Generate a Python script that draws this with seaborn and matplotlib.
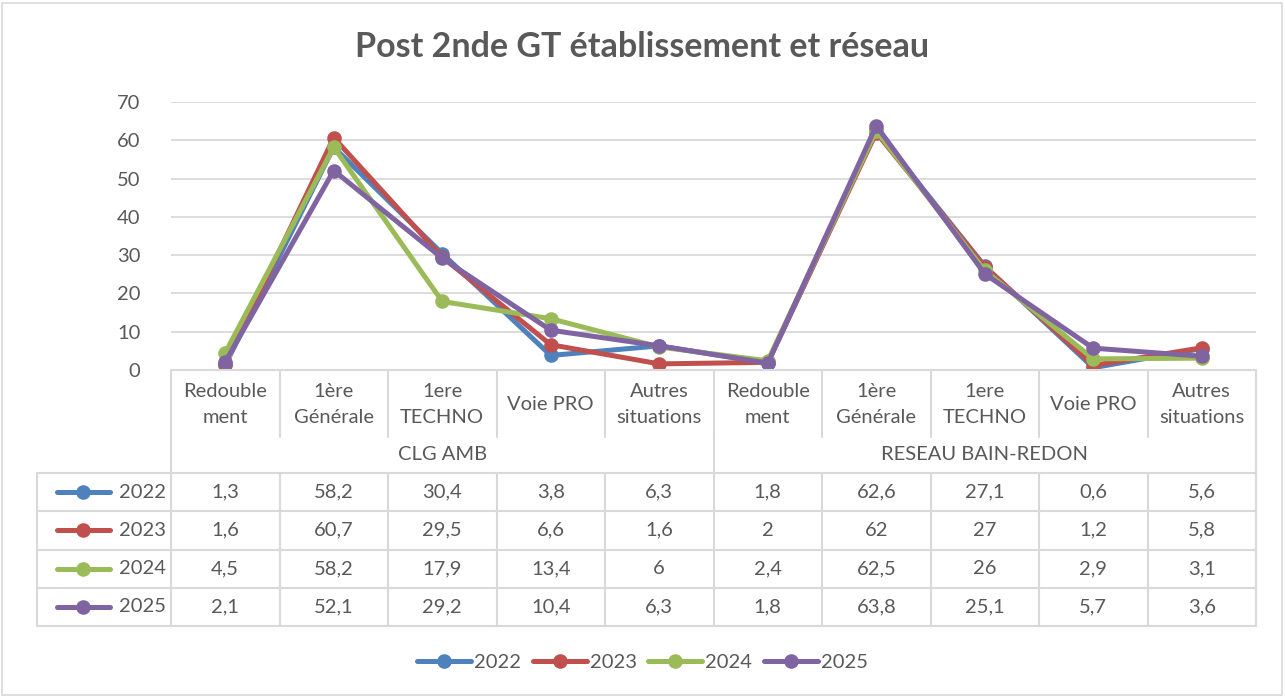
import numpy as np
import pandas as pd
import seaborn as sns
import matplotlib.pyplot as plt
from matplotlib.patches import Rectangle
from matplotlib.lines import Line2D

# Data
categories = ["Redouble\nment", "1ère\nGénérale", "1ere\nTECHNO", "Voie PRO", "Autres\nsituations"] * 2
groups = ["CLG AMB", "RESEAU BAIN-REDON"]
years = ["2022", "2023", "2024", "2025"]
v2022 = [1.3, 58.2, 30.4, 3.8, 6.3, 1.8, 62.6, 27.1, 0.6, 5.6]
v2023 = [1.6, 60.7, 29.5, 6.6, 1.6, 2.0, 62.0, 27.0, 1.2, 5.8]
v2024 = [4.5, 58.2, 17.9, 13.4, 6.0, 2.4, 62.5, 26.0, 2.9, 3.1]
v2025 = [2.1, 52.1, 29.2, 10.4, 6.3, 1.8, 63.8, 25.1, 5.7, 3.6]
colors = ["#4F81BD", "#C0504D", "#9BBB59", "#8064A2"]

series = [v2022, v2023, v2024, v2025]
df = pd.DataFrame({
    "x": list(range(10)) * 4,
    "value": sum(series, []),
    "year": sum([[y] * 10 for y in years], []),
})

sns.set_style("white")
plt.rcParams["font.family"] = ["Lato", "DejaVu Sans"]
TXT = "#595959"
GRID = "#D9D9D9"
FS = 14.5
LW, MS = 3.6, 10.5

W, H = 1285, 697
fig = plt.figure(figsize=(W / 100, H / 100), dpi=100)

# layout in pixels
ax_l, ax_r, ax_t, ax_b = 171, 1256, 102, 370
ax = fig.add_axes([ax_l / W, 1 - ax_b / H, (ax_r - ax_l) / W, (ax_b - ax_t) / H])

sns.lineplot(data=df, x="x", y="value", hue="year", palette=colors, marker="o",
             markersize=MS, markeredgewidth=0, linewidth=LW, sort=False,
             legend=False, ax=ax)

ax.set_xlim(-0.5, 9.5)
ax.set_ylim(0, 70)
ax.set_yticks(range(0, 71, 10))
ax.set_xticks([])
ax.set_xlabel("")
ax.set_ylabel("")
ax.tick_params(axis="y", length=0, labelsize=FS, labelcolor=TXT, pad=22)
for s in ax.spines.values():
    s.set_visible(False)
ax.grid(axis="y", color=GRID, linewidth=1.3)
ax.set_axisbelow(True)

fig.text(0.5, 1 - 47 / H, "Post 2nde GT établissement et réseau", ha="center", va="center",
         fontsize=24.5, fontweight="bold", color=TXT)

# data table below the plot
colw = (ax_r - ax_l) / 10
tab_l, tab_t, tab_b = 37, 370, 626
tax = fig.add_axes([tab_l / W, 1 - tab_b / H, (ax_r - tab_l) / W, (tab_b - tab_t) / H])


def px2x(px):
    return -0.5 - (ax_l - px) / colw


x0 = px2x(tab_l)
tax.set_xlim(x0, 9.5)
tax.set_ylim(tab_b, tab_t)
tax.axis("off")

row_cat = (370, 437)
row_grp = (437, 473)
row_h = (tab_b - 473) / 4
lc = dict(color=GRID, linewidth=1.5, clip_on=False)

tax.plot([-0.5, 9.5], [370, 370], **lc)
for i in range(11):
    b = i - 0.5
    tax.plot([b, b], [row_cat[0], row_cat[1]], **lc)
    tax.plot([b, b], [473, tab_b], **lc)
for b in [-0.5, 4.5, 9.5]:
    tax.plot([b, b], [row_grp[0], row_grp[1]], **lc)
tax.plot([x0, x0], [473, tab_b], **lc)
for k in range(5):
    y = 473 + k * row_h
    tax.plot([x0, 9.5], [y, y], **lc)

for i, c in enumerate(categories):
    tax.text(i, (row_cat[0] + row_cat[1]) / 2 + 1, c, ha="center", va="center",
             fontsize=FS, color=TXT, linespacing=1.6)
for g, gname in enumerate(groups):
    tax.text(2 + 5 * g, (row_grp[0] + row_grp[1]) / 2, gname, ha="center", va="center",
             fontsize=FS, color=TXT)

for r, (yr, vals, col) in enumerate(zip(years, series, colors)):
    yc = 473 + (r + 0.5) * row_h
    for i, v in enumerate(vals):
        s = f"{v:g}".replace(".", ",")
        tax.text(i, yc, s, ha="center", va="center", fontsize=FS, color=TXT)
    tax.plot([px2x(57), px2x(110)], [yc, yc], color=col, linewidth=LW, clip_on=False,
             solid_capstyle="round")
    tax.plot([px2x(83)], [yc], "o", color=col, markersize=MS, markeredgewidth=0, clip_on=False)
    tax.text(px2x(166), yc, yr, ha="right", va="center", fontsize=FS, color=TXT)

# legend
handles = [Line2D([0], [0], color=c, linewidth=LW, marker="o", markersize=MS,
                  markeredgewidth=0, solid_capstyle="round") for c in colors]
fig.legend(handles, years, loc="center", bbox_to_anchor=(0.5, 1 - 662 / H), ncol=4,
           frameon=False, fontsize=FS, labelcolor=TXT, handlelength=2.7,
           handletextpad=0.15, columnspacing=0.55)

fig.patches.append(Rectangle((2 / W, 2 / H), 1 - 5 / W, 1 - 5 / H, transform=fig.transFigure,
                             fill=False, edgecolor=GRID, linewidth=1.2))

fig.savefig("out.png", dpi=100, facecolor="white")
